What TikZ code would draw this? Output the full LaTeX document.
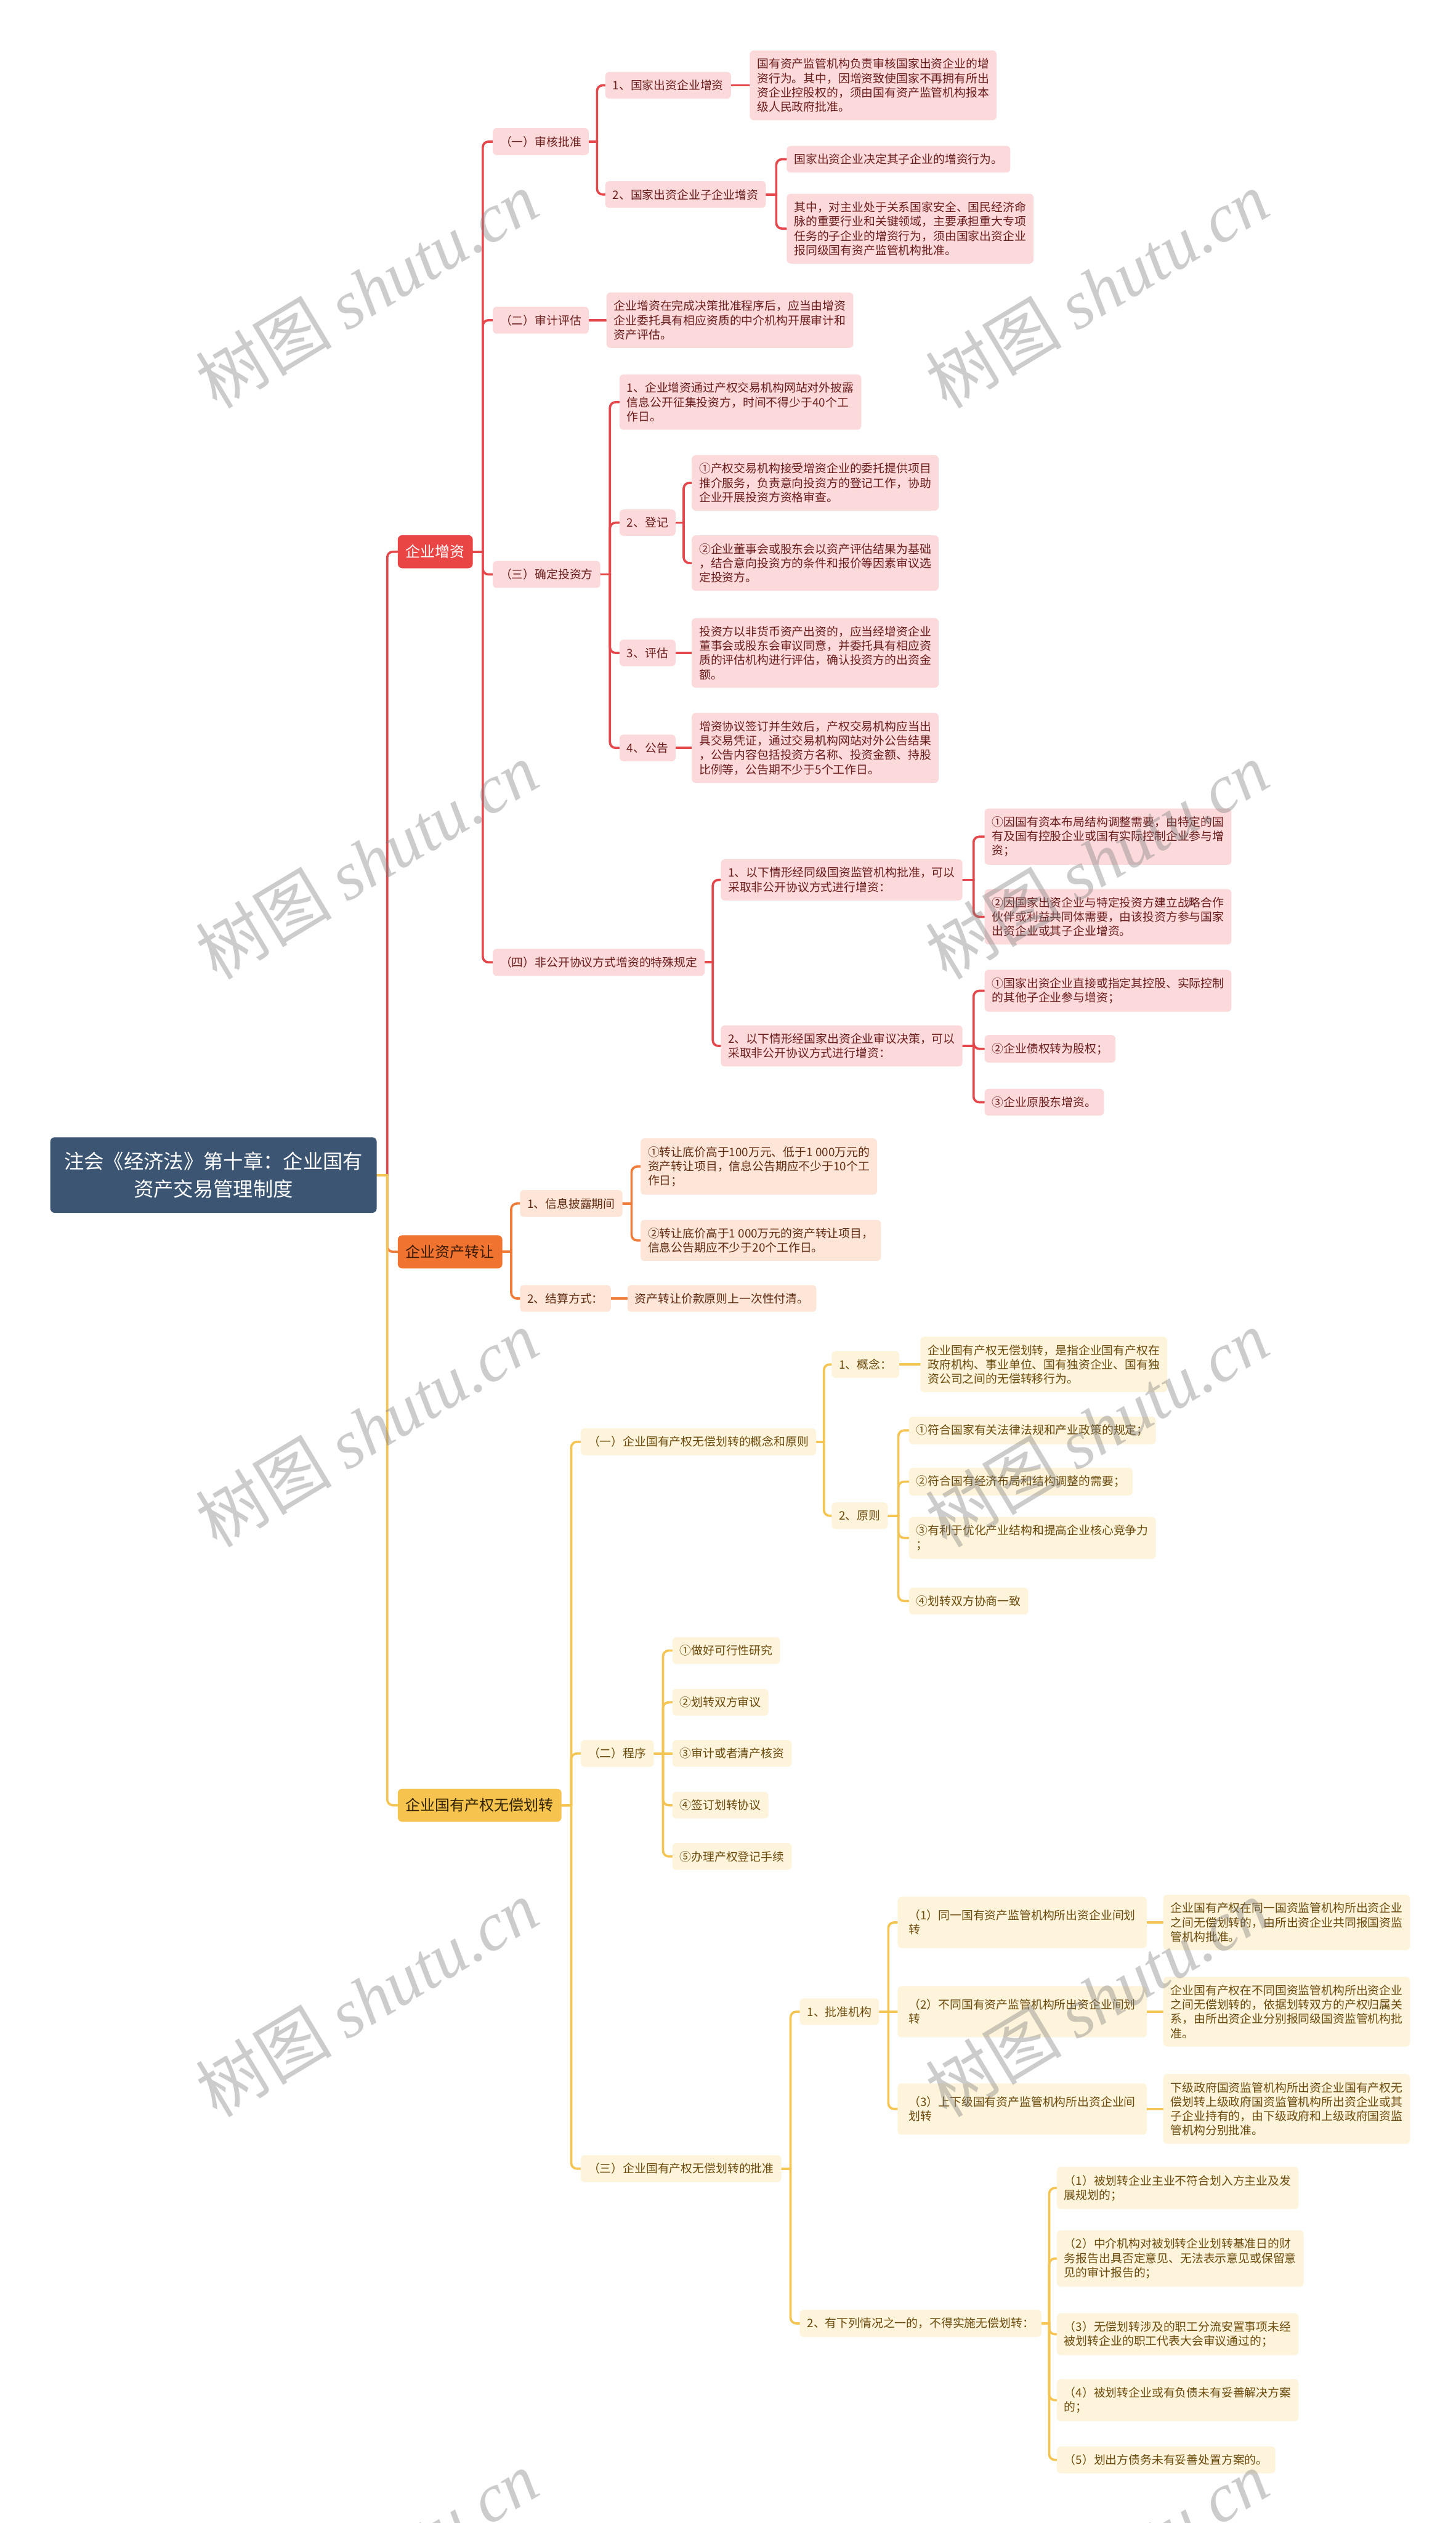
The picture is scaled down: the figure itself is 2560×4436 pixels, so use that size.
\documentclass[tikz,border=0pt]{standalone}
\usepackage{fontspec}
\setmainfont{Noto Sans CJK SC}
\newfontfamily\wmlatin{Liberation Serif}
\usetikzlibrary{calc}
\pgfdeclarelayer{back}
\pgfdeclarelayer{wires}
\pgfsetlayers{back,wires,main}

\definecolor{cRoot}{HTML}{3B5572}
\definecolor{cRed}{HTML}{E94545}
\definecolor{cRedLine}{HTML}{E4484C}
\definecolor{cRedFill}{HTML}{FCDADB}
\definecolor{cRedText}{HTML}{6B1D1D}
\definecolor{cOrg}{HTML}{F0742F}
\definecolor{cOrgLine}{HTML}{EF7B3A}
\definecolor{cOrgFill}{HTML}{FDE5D8}
\definecolor{cOrgText}{HTML}{5E2A10}
\definecolor{cOrgHead}{HTML}{3A1A06}
\definecolor{cYel}{HTML}{F6C34E}
\definecolor{cYelLine}{HTML}{F5C553}
\definecolor{cYelFill}{HTML}{FEF3DB}
\definecolor{cYelText}{HTML}{6A4B0C}
\definecolor{cYelHead}{HTML}{2E2200}

\newcommand\mmelbow[3]{%
  \begin{pgfonlayer}{wires}
  \coordinate (bus) at ($(#2.east)!0.5!(#2.east -| #3.west)$);
  \draw[#1] (#2.east) -- (bus);
  \draw[#1, rounded corners=5pt] (bus) |- (#3.west);
  \end{pgfonlayer}}
\newcommand\mmdirect[3]{%
  \begin{pgfonlayer}{wires}
  \draw[#1] (#2.east) -- (#3.west);
  \end{pgfonlayer}}

\tikzset{
  lvl/.style={anchor=west, rounded corners=3.5pt, inner xsep=6.5pt, inner ysep=7pt, align=left, font=\fontsize{10.2}{12.6}\selectfont},
  rbox/.style={lvl, fill=cRedFill, text=cRedText},
  obox/.style={lvl, fill=cOrgFill, text=cOrgText},
  ybox/.style={lvl, fill=cYelFill, text=cYelText},
  head/.style={anchor=west, rounded corners=4pt, inner xsep=7pt, inner ysep=8.5pt, font=\fontsize{13}{15}\selectfont},
  rwire/.style={draw=cRedLine, line width=2pt, line cap=round},
  owire/.style={draw=cOrgLine, line width=2pt, line cap=round},
  ywire/.style={draw=cYelLine, line width=2pt, line cap=round},
  wm/.style={text=gray, opacity=0.4, font=\fontsize{60}{60}\selectfont, rotate=31, inner sep=0pt}
}

\begin{document}
\begin{tikzpicture}[x=0.5pt,y=-0.5pt]
\begin{pgfonlayer}{back}
\fill[white] (0,0) rectangle (2560,4436);
\end{pgfonlayer}
\useasboundingbox (0,0) rectangle (2560,4436);

% root
\node[anchor=west, fill=cRoot, text=white, rounded corners=4pt, minimum width=287pt, minimum height=66.5pt, align=center, font=\fontsize{17.5}{24}\selectfont] (root) at (88,2066) {注会《经济法》第十章：企业国有\\资产交易管理制度};

% level 1
\node[head, fill=cRed, text=white] (zz) at (699,970) {企业增资};
\node[head, fill=cOrg, text=cOrgHead] (zc) at (699,2201) {企业资产转让};
\node[head, fill=cYel, text=cYelHead] (wc) at (699,3174) {企业国有产权无偿划转};

% red subtree
\node[rbox] (a1) at (866,249) {（一）审核批准};
\node[rbox] (a11) at (1064,150) {1、国家出资企业增资};
\node[rbox] (a111) at (1318,150) {国有资产监管机构负责审核国家出资企业的增\\资行为。其中，因增资致使国家不再拥有所出\\资企业控股权的，须由国有资产监管机构报本\\级人民政府批准。};
\node[rbox] (a12) at (1064,342) {2、国家出资企业子企业增资};
\node[rbox] (a121) at (1383,280) {国家出资企业决定其子企业的增资行为。};
\node[rbox] (a122) at (1383,402) {其中，对主业处于关系国家安全、国民经济命\\脉的重要行业和关键领域，主要承担重大专项\\任务的子企业的增资行为，须由国家出资企业\\报同级国有资产监管机构批准。};
\node[rbox] (a2) at (866,563) {（二）审计评估};
\node[rbox] (a21) at (1066,563) {企业增资在完成决策批准程序后，应当由增资\\企业委托具有相应资质的中介机构开展审计和\\资产评估。};
\node[rbox] (a3) at (866,1010) {（三）确定投资方};
\node[rbox] (a31) at (1089,707) {1、企业增资通过产权交易机构网站对外披露\\信息公开征集投资方，时间不得少于40个工\\作日。};
\node[rbox] (a32) at (1089,919) {2、登记};
\node[rbox] (a321) at (1216,849) {①产权交易机构接受增资企业的委托提供项目\\推介服务，负责意向投资方的登记工作，协助\\企业开展投资方资格审查。};
\node[rbox] (a322) at (1216,990) {②企业董事会或股东会以资产评估结果为基础\\，结合意向投资方的条件和报价等因素审议选\\定投资方。};
\node[rbox] (a33) at (1089,1148) {3、评估};
\node[rbox] (a331) at (1216,1148) {投资方以非货币资产出资的，应当经增资企业\\董事会或股东会审议同意，并委托具有相应资\\质的评估机构进行评估，确认投资方的出资金\\额。};
\node[rbox] (a34) at (1089,1315) {4、公告};
\node[rbox] (a341) at (1216,1315) {增资协议签订并生效后，产权交易机构应当出\\具交易凭证，通过交易机构网站对外公告结果\\，公告内容包括投资方名称、投资金额、持股\\比例等，公告期不少于5个工作日。};
\node[rbox] (a4) at (866,1692) {（四）非公开协议方式增资的特殊规定};
\node[rbox] (a41) at (1267,1547) {1、以下情形经同级国资监管机构批准，可以\\采取非公开协议方式进行增资：};
\node[rbox] (a411) at (1731,1471) {①因国有资本布局结构调整需要，由特定的国\\有及国有控股企业或国有实际控制企业参与增\\资；};
\node[rbox] (a412) at (1731,1612) {②因国家出资企业与特定投资方建立战略合作\\伙伴或利益共同体需要，由该投资方参与国家\\出资企业或其子企业增资。};
\node[rbox] (a42) at (1267,1839) {2、以下情形经国家出资企业审议决策，可以\\采取非公开协议方式进行增资：};
\node[rbox] (a421) at (1731,1742) {①国家出资企业直接或指定其控股、实际控制\\的其他子企业参与增资；};
\node[rbox] (a422) at (1731,1844) {②企业债权转为股权；};
\node[rbox] (a423) at (1731,1938) {③企业原股东增资。};

% orange subtree
\node[obox] (b1) at (914,2116) {1、信息披露期间};
\node[obox] (b11) at (1126,2051) {①转让底价高于100万元、低于1 000万元的\\资产转让项目，信息公告期应不少于10个工\\作日；};
\node[obox] (b12) at (1126,2181) {②转让底价高于1 000万元的资产转让项目，\\信息公告期应不少于20个工作日。};
\node[obox] (b2) at (914,2283) {2、结算方式：};
\node[obox] (b21) at (1103,2283) {资产转让价款原则上一次性付清。};

% yellow subtree
\node[ybox] (c1) at (1021,2535) {（一）企业国有产权无偿划转的概念和原则};
\node[ybox] (c11) at (1462,2399) {1、概念：};
\node[ybox] (c111) at (1618,2399) {企业国有产权无偿划转，是指企业国有产权在\\政府机构、事业单位、国有独资企业、国有独\\资公司之间的无偿转移行为。};
\node[ybox] (c12) at (1462,2665) {2、原则};
\node[ybox] (c121) at (1598,2515) {①符合国家有关法律法规和产业政策的规定；};
\node[ybox] (c122) at (1598,2605) {②符合国有经济布局和结构调整的需要；};
\node[ybox] (c123) at (1598,2704) {③有利于优化产业结构和提高企业核心竞争力\\；};
\node[ybox] (c124) at (1598,2815) {④划转双方协商一致};
\node[ybox] (c2) at (1021,3083) {（二）程序};
\node[ybox] (c21) at (1182,2902) {①做好可行性研究};
\node[ybox] (c22) at (1182,2993) {②划转双方审议};
\node[ybox] (c23) at (1182,3083) {③审计或者清产核资};
\node[ybox] (c24) at (1182,3174) {④签订划转协议};
\node[ybox] (c25) at (1182,3264) {⑤办理产权登记手续};
\node[ybox] (c3) at (1021,3813) {（三）企业国有产权无偿划转的批准};
\node[ybox] (c31) at (1406,3537) {1、批准机构};
\node[ybox, minimum width=219pt, minimum height=45pt] (c311) at (1578,3380) {（1）同一国有资产监管机构所出资企业间划\\转};
\node[ybox] (c3111) at (2045,3380) {企业国有产权在同一国资监管机构所出资企业\\之间无偿划转的，由所出资企业共同报国资监\\管机构批准。};
\node[ybox, minimum width=219pt, minimum height=45pt] (c312) at (1578,3537) {（2）不同国有资产监管机构所出资企业间划\\转};
\node[ybox] (c3121) at (2045,3537) {企业国有产权在不同国资监管机构所出资企业\\之间无偿划转的，依据划转双方的产权归属关\\系，由所出资企业分别报同级国资监管机构批\\准。};
\node[ybox, minimum width=219pt, minimum height=45pt] (c313) at (1578,3708) {（3）上下级国有资产监管机构所出资企业间\\划转};
\node[ybox] (c3131) at (2045,3708) {下级政府国资监管机构所出资企业国有产权无\\偿划转上级政府国资监管机构所出资企业或其\\子企业持有的，由下级政府和上级政府国资监\\管机构分别批准。};
\node[ybox] (c32) at (1406,4085) {2、有下列情况之一的，不得实施无偿划转：};
\node[ybox] (c321) at (1858,3847) {（1）被划转企业主业不符合划入方主业及发\\展规划的；};
\node[ybox] (c322) at (1858,3971) {（2）中介机构对被划转企业划转基准日的财\\务报告出具否定意见、无法表示意见或保留意\\见的审计报告的；};
\node[ybox] (c323) at (1858,4104) {（3）无偿划转涉及的职工分流安置事项未经\\被划转企业的职工代表大会审议通过的；};
\node[ybox] (c324) at (1858,4220) {（4）被划转企业或有负债未有妥善解决方案\\的；};
\node[ybox] (c325) at (1858,4325) {（5）划出方债务未有妥善处置方案的。};

% connectors: root
\mmelbow{rwire}{root}{zz}
\mmelbow{owire}{root}{zc}
\mmelbow{ywire}{root}{wc}

% red
\mmelbow{rwire}{zz}{a1}
\mmelbow{rwire}{zz}{a2}
\mmelbow{rwire}{zz}{a3}
\mmelbow{rwire}{zz}{a4}
\mmelbow{rwire}{a1}{a11}
\mmelbow{rwire}{a1}{a12}
\mmdirect{rwire}{a11}{a111}
\mmelbow{rwire}{a12}{a121}
\mmelbow{rwire}{a12}{a122}
\mmdirect{rwire}{a2}{a21}
\mmelbow{rwire}{a3}{a31}
\mmelbow{rwire}{a3}{a32}
\mmelbow{rwire}{a3}{a33}
\mmelbow{rwire}{a3}{a34}
\mmelbow{rwire}{a32}{a321}
\mmelbow{rwire}{a32}{a322}
\mmdirect{rwire}{a33}{a331}
\mmdirect{rwire}{a34}{a341}
\mmelbow{rwire}{a4}{a41}
\mmelbow{rwire}{a4}{a42}
\mmelbow{rwire}{a41}{a411}
\mmelbow{rwire}{a41}{a412}
\mmelbow{rwire}{a42}{a421}
\mmelbow{rwire}{a42}{a422}
\mmelbow{rwire}{a42}{a423}

% orange
\mmelbow{owire}{zc}{b1}
\mmelbow{owire}{zc}{b2}
\mmelbow{owire}{b1}{b11}
\mmelbow{owire}{b1}{b12}
\mmdirect{owire}{b2}{b21}

% yellow
\mmelbow{ywire}{wc}{c1}
\mmelbow{ywire}{wc}{c2}
\mmelbow{ywire}{wc}{c3}
\mmelbow{ywire}{c1}{c11}
\mmelbow{ywire}{c1}{c12}
\mmdirect{ywire}{c11}{c111}
\mmelbow{ywire}{c12}{c121}
\mmelbow{ywire}{c12}{c122}
\mmelbow{ywire}{c12}{c123}
\mmelbow{ywire}{c12}{c124}
\mmelbow{ywire}{c2}{c21}
\mmelbow{ywire}{c2}{c22}
\mmdirect{ywire}{c2}{c23}
\mmelbow{ywire}{c2}{c24}
\mmelbow{ywire}{c2}{c25}
\mmelbow{ywire}{c3}{c31}
\mmelbow{ywire}{c3}{c32}
\mmelbow{ywire}{c31}{c311}
\mmdirect{ywire}{c31}{c312}
\mmelbow{ywire}{c31}{c313}
\mmdirect{ywire}{c311}{c3111}
\mmdirect{ywire}{c312}{c3121}
\mmdirect{ywire}{c313}{c3131}
\mmelbow{ywire}{c32}{c321}
\mmelbow{ywire}{c32}{c322}
\mmelbow{ywire}{c32}{c323}
\mmelbow{ywire}{c32}{c324}
\mmelbow{ywire}{c32}{c325}

% watermarks
\begin{scope}
\clip (0,0) rectangle (2560,4436);
\node[wm] (w1) at (645,509) {树图 {\wmlatin\itshape shutu.cn}};
\node[wm] (w2) at (1929,509) {树图 {\wmlatin\itshape shutu.cn}};
\node[wm] (w3) at (645,1513) {树图 {\wmlatin\itshape shutu.cn}};
\node[wm] (w4) at (1929,1513) {树图 {\wmlatin\itshape shutu.cn}};
\node[wm] (w5) at (645,2512) {树图 {\wmlatin\itshape shutu.cn}};
\node[wm] (w6) at (1929,2512) {树图 {\wmlatin\itshape shutu.cn}};
\node[wm] (w7) at (645,3513) {树图 {\wmlatin\itshape shutu.cn}};
\node[wm] (w8) at (1929,3513) {树图 {\wmlatin\itshape shutu.cn}};
\node[wm] (w9) at (645,4517) {树图 {\wmlatin\itshape shutu.cn}};
\node[wm] (w10) at (1929,4517) {树图 {\wmlatin\itshape shutu.cn}};
\end{scope}
\end{tikzpicture}
\end{document}
